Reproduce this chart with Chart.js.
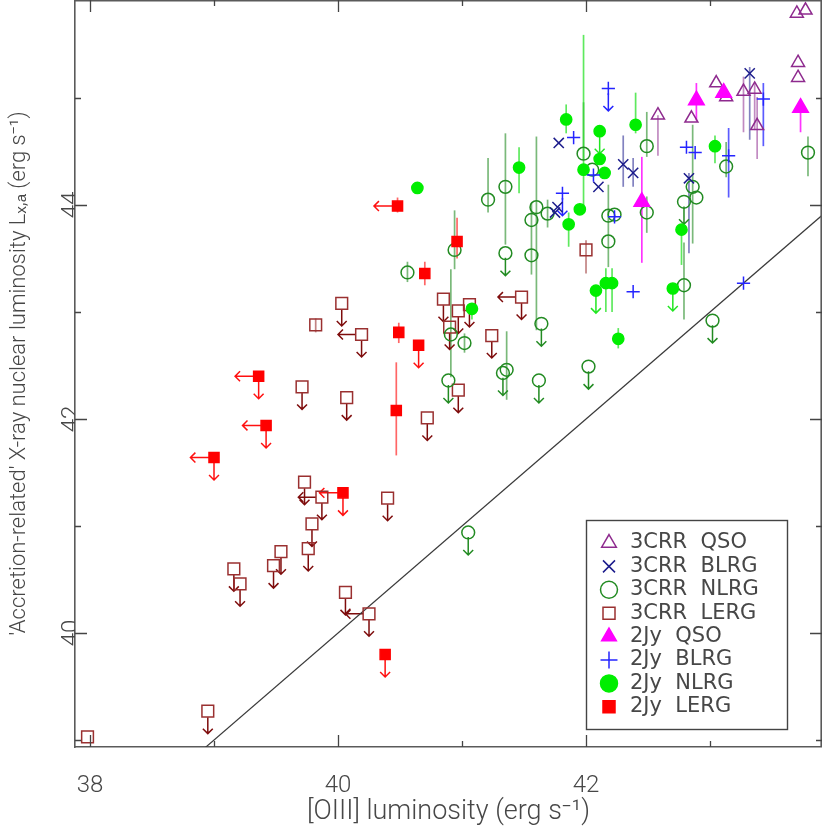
<!DOCTYPE html>
<html>
<head>
<meta charset="utf-8">
<script src="https://cdn.jsdelivr.net/npm/chart.js@4.4.0/dist/chart.umd.min.js"></script>
<style>
html,body{margin:0;padding:0;background:#fff;}
canvas{display:block;}
</style>
</head>
<body>
<canvas id="c" width="822" height="829"></canvas>
<script>
// ---------------- data ----------------
// axis ticks
const xTicks = [38, 39, 40, 41, 42, 43];
const yTicks = [39, 40, 41, 42, 43, 44, 45];
const xTickLabels = [38, 40, 42];
const yTickLabels = [40, 42, 44];

// 3CRR QSO
const crrQsoX  = [43.70, 43.77, 43.71, 43.71, 43.05, 43.13, 43.27, 43.36, 43.38, 42.58, 42.85];
const crrQsoY  = [45.79, 45.82, 45.33, 45.19, 45.14, 45.01, 45.06, 45.08, 44.74, 44.84, 44.81];
const crrQsoLo = [null, null, null, null, null, null, 44.68, 44.70, 44.43, 44.46, null];
const crrQsoHi = [null, null, null, null, null, null, 45.20, 45.14, 45.01, 44.84, null];
const crrQsoLim = ['', '', '', '', '', '', '', '', '', '', ''];

// 3CRR BLRG
const crrBlrgX  = [41.78, 41.77, 41.75, 42.10, 42.30, 42.38, 43.32, 42.83];
const crrBlrgY  = [44.58, 43.98, 43.93, 44.17, 44.38, 44.30, 45.23, 44.25];
const crrBlrgLo = [null, null, null, null, 44.17, 44.17, 44.61, 43.55];
const crrBlrgHi = [null, null, null, null, 44.65, 44.44, 45.29, 44.30];
const crrBlrgLim = ['', '', '', '', '', '', '', ''];

// 3CRR NLRG
const crrNlrgX  = [41.21, 41.35, 41.60, 41.56, 41.69, 41.35, 41.56, 41.98, 42.05, 42.49, 42.18, 42.23, 42.18, 42.49, 42.79, 42.86,
                   42.89, 43.13, 43.79, 42.79, 40.56, 40.91, 41.02, 40.94, 41.64, 41.33, 41.36, 40.89, 41.62, 41.05, 42.02, 43.02];
const crrNlrgY  = [44.05, 44.17, 43.98, 43.86, 43.92, 43.55, 43.53, 44.48, 44.33, 44.55, 43.90, 43.91, 43.66, 43.93, 44.03, 44.17,
                   44.07, 44.36, 44.49, 43.25, 43.37, 42.79, 42.71, 43.58, 42.89, 42.43, 42.46, 42.36, 42.36, 40.94, 42.49, 42.92];
const crrNlrgLo = [43.93, 43.63, 42.83, 43.72, 43.79, null, 43.35, 44.42, null, 44.45, null, null, 43.42, 43.74, null, 43.64,
                   null, 44.26, 44.27, 42.93, 43.28, 42.39, 42.62, 43.40, null, null, 42.18, null, null, null, null, null];
const crrNlrgHi = [44.44, 44.67, 44.64, 44.02, 44.05, null, 43.72, 44.96, null, 44.87, null, null, 44.19, 44.08, null, 44.75,
                   null, 44.59, 44.64, 43.65, 43.47, 43.40, 42.80, 43.95, null, null, 42.82, null, null, null, null, null];
const crrNlrgLim = ['', '', '', '', '', 'd', '', '', '', '', '', '', '', '', 'd', '',
                    '', '', '', '', '', '', '', '', 'd', 'd', '', 'd', 'd', 'd', 'd', 'd'];

// 3CRR LERG
const crrLergX  = [39.82, 39.71, 39.73, 39.87, 39.79, 39.76, 39.54, 39.48, 39.16, 39.21, 38.95, 37.98, 40.03, 40.19,
                   40.85, 40.97, 41.06, 40.90, 41.24, 41.48, 40.07, 40.97, 40.72, 40.40, 40.06, 40.25, 42.00];
const crrLergY  = [42.88, 42.30, 41.41, 41.27, 41.02, 40.79, 40.76, 40.63, 40.60, 40.46, 39.27, 39.03, 43.08, 42.79,
                   43.12, 43.01, 43.07, 42.86, 42.78, 43.14, 42.20, 42.27, 42.01, 41.26, 40.38, 40.18, 43.58];
const crrLergLo = [42.81, null, null, null, null, null, null, null, null, null, null, null, null, null,
                   null, null, null, null, null, null, null, null, null, null, null, null, 43.36];
const crrLergHi = [42.94, null, null, null, null, null, null, null, null, null, null, null, null, null,
                   null, null, null, null, null, null, null, null, null, null, null, null, 43.67];
const crrLergLim = ['', 'd', 'd', 'ld', 'd', 'd', 'd', 'd', 'd', 'd', 'd', '', 'd', 'ld',
                    'd', 'd', 'd', 'd', 'd', 'ld', 'd', 'd', 'd', 'd', 'd', 'ld', ''];

// 2Jy QSO
const jyQsoX  = [42.89, 43.11, 43.73, 42.45];
const jyQsoY  = [44.98, 45.05, 44.91, 44.03];
const jyQsoLo = [44.79, null, 44.68, 43.46];
const jyQsoHi = [45.14, null, 44.91, 44.45];
const jyQsoLim = ['', '', '', ''];

// 2Jy BLRG
const jyBlrgX  = [41.90, 41.81, 42.18, 42.06, 42.23, 42.81, 42.88, 43.15, 43.43, 42.38, 43.27];
const jyBlrgY  = [44.63, 44.11, 45.09, 44.28, 43.89, 44.54, 44.49, 44.46, 44.99, 43.19, 43.27];
const jyBlrgLo = [null, null, null, null, null, null, null, 44.07, 44.55, null, null];
const jyBlrgHi = [null, null, null, null, null, null, null, 44.72, 45.14, null, null];
const jyBlrgLim = ['', 'd', 'd', '', '', '', '', '', '', '', ''];

// 2Jy NLRG
const jyNlrgX  = [40.64, 41.46, 41.84, 42.11, 42.40, 42.11, 41.98, 42.15, 41.95, 41.86, 43.04, 42.77, 42.08, 42.16, 42.21, 42.70, 42.26, 41.08];
const jyNlrgY  = [44.16, 44.35, 44.80, 44.69, 44.75, 44.43, 44.33, 44.30, 43.96, 43.82, 44.55, 43.77, 43.20, 43.27, 43.27, 43.22, 42.75, 43.03];
const jyNlrgLo = [null, 44.11, 44.67, null, 44.67, null, 43.98, null, null, 43.61, 44.39, 43.44, null, 43.00, 43.00, null, 42.66, 42.93];
const jyNlrgHi = [null, 44.54, 44.94, null, 45.05, null, 45.59, null, null, 43.93, 44.65, 43.77, null, 43.41, 43.41, null, 42.85, 43.08];
const jyNlrgLim = ['', '', '', 'd', '', '', '', '', '', '', '', '', 'd', '', '', 'd', '', ''];

// 2Jy LERG
const jyLergX  = [40.48, 40.96, 40.70, 40.49, 40.65, 40.47, 40.04, 40.38, 39.36, 39.42, 39.00];
const jyLergY  = [43.99, 43.66, 43.36, 42.81, 42.69, 42.08, 41.31, 39.80, 42.40, 41.94, 41.64];
const jyLergLo = [43.93, 43.50, 43.25, 42.71, null, 41.66, null, null, null, null, null];
const jyLergHi = [44.07, 43.88, 43.47, 42.90, null, 42.53, null, null, null, null, null];
const jyLergLim = ['l', '', '', '', 'd', '', 'ld', 'd', 'ld', 'ld', 'ld'];

// one-to-one reference line
const lineX = [38, 44];
const lineY = [38, 44];

// ---------------- styling ----------------
const X_MIN = 37.879, X_MAX = 43.903;
const Y_MIN = 38.935, Y_MAX = 45.916;
const ARROW_DY = 0.21;   // length of an upper-limit arrow (dex)
const ARROW_DX = 0.19;   // length of a left arrow (dex)
const FONT = "Roboto, 'DejaVu Sans', sans-serif";
const LEGEND_FONT = "'DejaVu Sans', Roboto, sans-serif";
const TEXT = '#474747';

const SERIES = [
  {label: '3CRR  QSO',  xs: crrQsoX,  ys: crrQsoY,  lo: crrQsoLo,  hi: crrQsoHi,  lim: crrQsoLim,
   style: 'triangle', r: 7.5, color: '#8E2A8E', fill: 'rgba(0,0,0,0)', err: 'rgba(142,42,142,0.55)', arrow: '#8E2A8E', order: 2},
  {label: '3CRR  BLRG', xs: crrBlrgX, ys: crrBlrgY, lo: crrBlrgLo, hi: crrBlrgHi, lim: crrBlrgLim,
   style: 'crossRot', r: 7.2, color: '#1C1C8C', fill: 'rgba(0,0,0,0)', err: 'rgba(28,28,140,0.55)', arrow: '#1C1C8C', order: 2},
  {label: '3CRR  NLRG', xs: crrNlrgX, ys: crrNlrgY, lo: crrNlrgLo, hi: crrNlrgHi, lim: crrNlrgLim,
   style: 'circle', r: 6.4, color: '#228B22', fill: 'rgba(0,0,0,0)', err: 'rgba(34,139,34,0.6)', arrow: '#228B22', order: 2},
  {label: '3CRR  LERG', xs: crrLergX, ys: crrLergY, lo: crrLergLo, hi: crrLergHi, lim: crrLergLim,
   style: 'rect', r: 8.3, color: '#9A3030', fill: 'rgba(0,0,0,0)', err: 'rgba(154,48,48,0.6)', arrow: '#7E0C0C', order: 2},
  {label: '2Jy  QSO',   xs: jyQsoX,   ys: jyQsoY,   lo: jyQsoLo,   hi: jyQsoHi,   lim: jyQsoLim,
   style: 'triangle', r: 9, color: '#FF00FF', fill: '#FF00FF', err: 'rgba(255,0,255,0.8)', arrow: '#FF00FF', order: 1},
  {label: '2Jy  BLRG',  xs: jyBlrgX,  ys: jyBlrgY,  lo: jyBlrgLo,  hi: jyBlrgHi,  lim: jyBlrgLim,
   style: 'cross', r: 6.6, color: '#2424FF', fill: 'rgba(0,0,0,0)', err: 'rgba(36,36,255,0.75)', arrow: '#2424FF', order: 1},
  {label: '2Jy  NLRG',  xs: jyNlrgX,  ys: jyNlrgY,  lo: jyNlrgLo,  hi: jyNlrgHi,  lim: jyNlrgLim,
   style: 'circle', r: 5.6, color: '#00EE00', fill: '#00EE00', err: 'rgba(40,225,40,0.75)', arrow: '#22E622', order: 1},
  {label: '2Jy  LERG',  xs: jyLergX,  ys: jyLergY,  lo: jyLergLo,  hi: jyLergHi,  lim: jyLergLim,
   style: 'rect', r: 7.1, color: '#FF0000', fill: '#FF0000', err: 'rgba(255,0,0,0.6)', arrow: '#FF1010', order: 1}
];

// legend frame (pixels on the canvas)
const LEG = {left: 586, top: 520, right: 787, bottom: 729, markerX: 609, firstRowY: 543};
const LEG_FONT = 21, LEG_BOX = 12, LEG_PAD = 2.4;

function drawArrow(ctx, x0, y0, x1, y1) {
  const a = Math.atan2(y1 - y0, x1 - x0), h = 7;
  ctx.beginPath();
  ctx.moveTo(x0, y0); ctx.lineTo(x1, y1);
  ctx.moveTo(x1 - h * Math.cos(a - Math.PI / 4), y1 - h * Math.sin(a - Math.PI / 4));
  ctx.lineTo(x1, y1);
  ctx.lineTo(x1 - h * Math.cos(a + Math.PI / 4), y1 - h * Math.sin(a + Math.PI / 4));
  ctx.stroke();
}

const decorPlugin = {
  id: 'decor',
  afterLayout(chart) {
    const lg = chart.legend;
    if (!lg) return;
    const bw = Math.min(LEG_BOX * 2, LEG_FONT);
    lg.left = LEG.markerX - bw / 2 - LEG_PAD;
    lg.top = LEG.firstRowY - LEG_FONT / 2 - LEG_PAD;
    lg.right = LEG.right;
    lg.bottom = lg.top + 260;
    lg.width = lg.right - lg.left;
    lg.height = lg.bottom - lg.top;
  },
  beforeDatasetsDraw(chart) {
    const {ctx, chartArea: a, scales: {x, y}} = chart;
    ctx.save();
    ctx.beginPath();
    ctx.rect(a.left, a.top, a.right - a.left, a.bottom - a.top);
    ctx.clip();
    ctx.lineCap = 'butt';
    SERIES.forEach(s => {
      ctx.strokeStyle = s.err;
      ctx.lineWidth = 1.7;
      s.xs.forEach((xv, i) => {
        if (s.lo[i] == null || s.hi[i] == null) return;
        const px = x.getPixelForValue(xv);
        ctx.beginPath();
        ctx.moveTo(px, y.getPixelForValue(s.lo[i]));
        ctx.lineTo(px, y.getPixelForValue(s.hi[i]));
        ctx.stroke();
      });
      ctx.strokeStyle = s.arrow;
      ctx.lineWidth = 1.5;
      s.xs.forEach((xv, i) => {
        const lim = s.lim[i];
        if (!lim) return;
        const px = x.getPixelForValue(xv), py = y.getPixelForValue(s.ys[i]);
        const off = s.r * 0.72;
        if (lim.includes('d')) drawArrow(ctx, px, py + off, px, y.getPixelForValue(s.ys[i] - ARROW_DY));
        if (lim.includes('l')) drawArrow(ctx, px - off, py, x.getPixelForValue(xv - ARROW_DX), py);
      });
    });
    ctx.restore();
  },
  afterDraw(chart) {
    const {ctx, chartArea: a, scales: {x, y}} = chart;
    ctx.save();
    ctx.strokeStyle = '#5a5a5a';
    ctx.lineWidth = 1.6;
    // top and right frame
    ctx.beginPath();
    ctx.moveTo(a.left, a.top + 0.8);
    ctx.lineTo(a.right - 0.8, a.top + 0.8);
    ctx.lineTo(a.right - 0.8, a.bottom);
    ctx.stroke();
    // inward tick marks on all four sides
    ctx.strokeStyle = '#444';
    ctx.lineWidth = 1.3;
    ctx.beginPath();
    xTicks.forEach(v => {
      const px = Math.round(x.getPixelForValue(v)) + 0.5;
      const L = xTickLabels.includes(v) ? 12 : 6;
      ctx.moveTo(px, a.bottom); ctx.lineTo(px, a.bottom - L);
      ctx.moveTo(px, a.top); ctx.lineTo(px, a.top + L);
    });
    yTicks.forEach(v => {
      const py = Math.round(y.getPixelForValue(v)) + 0.5;
      const L = yTickLabels.includes(v) ? 12 : 6;
      ctx.moveTo(a.left, py); ctx.lineTo(a.left + L, py);
      ctx.moveTo(a.right, py); ctx.lineTo(a.right - L, py);
    });
    ctx.stroke();
    // legend frame
    ctx.strokeStyle = '#444';
    ctx.lineWidth = 1.4;
    ctx.strokeRect(LEG.left + 0.5, LEG.top + 0.5, LEG.right - LEG.left, LEG.bottom - LEG.top);
    ctx.restore();
  }
};

const datasets = SERIES.map(s => ({
  type: 'scatter',
  label: s.label,
  data: s.xs.map((xv, i) => ({x: xv, y: s.ys[i]})),
  pointStyle: s.style,
  pointRadius: s.r,
  pointHoverRadius: s.r,
  pointBorderWidth: 1.5,
  borderWidth: 1.5,
  borderColor: s.color,
  backgroundColor: s.fill,
  pointBorderColor: s.color,
  pointBackgroundColor: s.fill,
  order: s.order
}));
datasets.push({
  type: 'line',
  label: 'one-to-one',
  data: lineX.map((xv, i) => ({x: xv, y: lineY[i]})),
  borderColor: '#3a3a3a',
  borderWidth: 1.2,
  pointRadius: 0,
  fill: false,
  order: 3
});

new Chart(document.getElementById('c'), {
  type: 'scatter',
  data: {datasets},
  plugins: [decorPlugin],
  options: {
    responsive: false,
    animation: false,
    devicePixelRatio: 1,
    layout: {padding: 0, autoPadding: false},
    plugins: {
      tooltip: {enabled: false},
      legend: {
        display: true,
        position: 'chartArea',
        align: 'start',
        labels: {
          usePointStyle: true,
          boxWidth: LEG_BOX * 2,
          boxHeight: LEG_BOX,
          padding: LEG_PAD,
          color: TEXT,
          font: {family: LEGEND_FONT, size: LEG_FONT},
          filter: item => item.datasetIndex < SERIES.length,
          sort: (p, q) => p.datasetIndex - q.datasetIndex
        }
      }
    },
    scales: {
      x: {
        type: 'linear',
        position: 'bottom',
        min: X_MIN,
        max: X_MAX,
        afterBuildTicks: s => { s.ticks = xTicks.map(v => ({value: v})); },
        afterFit: s => { s.height = 82; s.paddingLeft = 0; s.paddingRight = 0; },
        grid: {display: false, drawTicks: false},
        border: {display: true, color: '#5a5a5a', width: 1.6},
        ticks: {
          autoSkip: false, maxRotation: 0, minRotation: 0, padding: 25,
          color: TEXT, font: {family: FONT, size: 24, weight: '300'},
          callback: v => xTickLabels.includes(v) ? String(v) : null
        },
        title: {
          display: true,
          text: '[OIII] luminosity (erg s⁻¹)',
          color: TEXT,
          font: {family: FONT, size: 27, weight: '300'},
          padding: {top: 0, bottom: 1}
        }
      },
      y: {
        type: 'linear',
        position: 'left',
        min: Y_MIN,
        max: Y_MAX,
        afterBuildTicks: s => { s.ticks = yTicks.map(v => ({value: v})); },
        afterFit: s => { s.width = 75; s.paddingTop = 0; s.paddingBottom = 0; },
        grid: {display: false, drawTicks: false},
        border: {display: true, color: '#5a5a5a', width: 1.6},
        ticks: {
          autoSkip: false, minRotation: 90, maxRotation: 90, crossAlign: 'center', padding: -10,
          color: TEXT, font: {family: FONT, size: 24, weight: '300'},
          callback: v => yTickLabels.includes(v) ? String(v) : null
        },
        title: {
          display: true,
          text: "'Accretion-related' X-ray nuclear luminosity Lₓ,ₐ (erg s⁻¹)",
          color: TEXT,
          font: {family: FONT, size: 22, weight: '300'},
          padding: {top: 6, bottom: 0}
        }
      }
    }
  }
});
</script>
</body>
</html>
